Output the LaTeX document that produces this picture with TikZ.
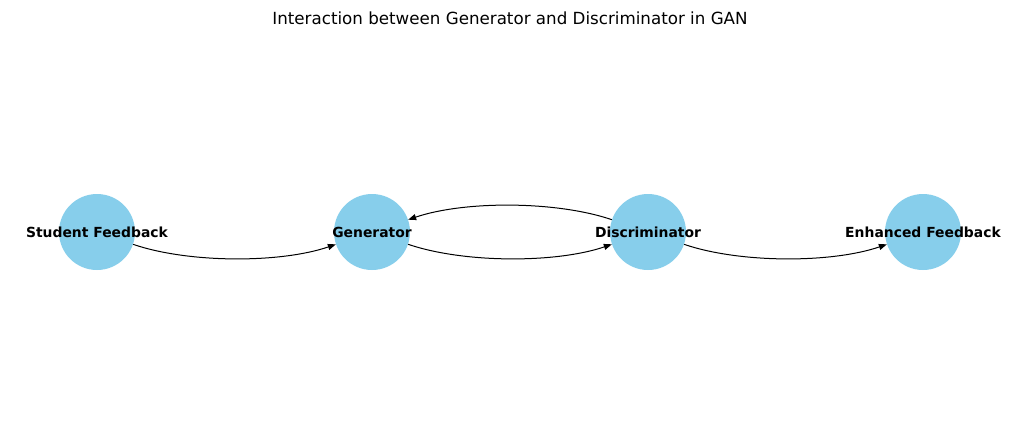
\documentclass[tikz,border=0pt]{standalone}
\usepackage{fontspec}
\setmainfont{DejaVu Sans}
\usetikzlibrary{arrows.meta,calc}
\definecolor{skyblue}{HTML}{87CEEB}
\tikzset{
  circ/.style={circle,fill=skyblue,draw=none,minimum size=76pt,inner sep=0pt},
  lab/.style={font=\fontsize{13.9pt}{15pt}\selectfont\bfseries,inner sep=0pt,text=black},
  edge/.style={draw=black,line width=1pt,-{Triangle[length=8pt,width=6pt]}}
}
\begin{document}
\begin{tikzpicture}[x=1pt,y=-1pt]
\useasboundingbox (0,0) rectangle (1019,442);
\node[font=\fontsize{16.7pt}{19pt}\selectfont] (title) at (510,18) {Interaction between Generator and Discriminator in GAN};
\node[circ] (s) at (97,232) {};
\node[circ] (g) at (372,232) {};
\node[circ] (d) at (648,232) {};
\node[circ] (e) at (923,232) {};
\coordinate (c1) at (234.5,279);
\coordinate (c2) at (510,279);
\coordinate (c3) at (510,185);
\coordinate (c4) at (785.5,279);
\draw[edge] (s) .. controls ($(s.center)!2/3!(c1)$) and ($(g.center)!2/3!(c1)$) .. (g);
\draw[edge] (g) .. controls ($(g.center)!2/3!(c2)$) and ($(d.center)!2/3!(c2)$) .. (d);
\draw[edge] (d) .. controls ($(d.center)!2/3!(c3)$) and ($(g.center)!2/3!(c3)$) .. (g);
\draw[edge] (d) .. controls ($(d.center)!2/3!(c4)$) and ($(e.center)!2/3!(c4)$) .. (e);
\node[lab] (ls) at (s) {Student Feedback};
\node[lab] (lg) at (g) {Generator};
\node[lab] (ld) at (d) {Discriminator};
\node[lab] (le) at (e) {Enhanced Feedback};
\end{tikzpicture}
\end{document}
